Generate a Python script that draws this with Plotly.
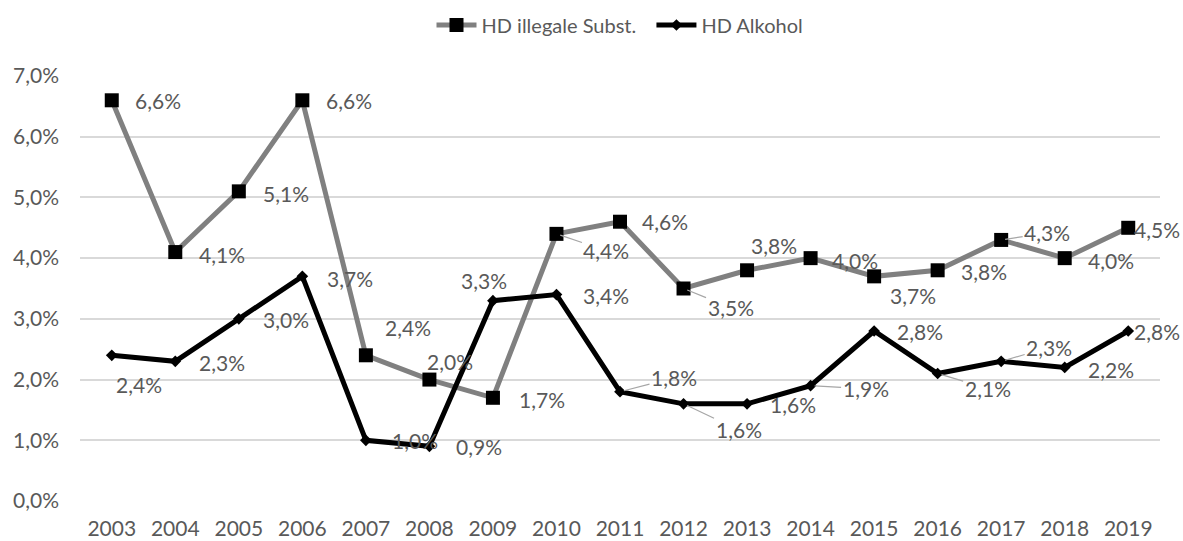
import plotly.graph_objects as go

years = [str(y) for y in range(2003, 2020)]
illegal = [0.066, 0.041, 0.051, 0.066, 0.024, 0.020, 0.017, 0.044, 0.046, 0.035,
           0.038, 0.040, 0.037, 0.038, 0.043, 0.040, 0.045]
alcohol = [0.024, 0.023, 0.030, 0.037, 0.010, 0.009, 0.033, 0.034, 0.018, 0.016,
           0.016, 0.019, 0.028, 0.021, 0.023, 0.022, 0.028]
y_ticks = [0.0, 0.01, 0.02, 0.03, 0.04, 0.05, 0.06, 0.07]

# label placement (pixel offsets of label centre from point; dy positive = down)
ill_dx = [46, 47, 47, 47, 42, 21, 49, 50, 45, 47, 27, 44, 39, 46, 46, 46, 29]
ill_dy = [0, 2, 2, 0, -28, -18, 2, 17, 0, 19, -25, 2, 19, 1, -7, 2, 2]
ill_leader = [False]*7 + [True, False, True, False, False, False, False, True, False, False]
alc_dx = [27, 47, 47, 48, 49, 50, -9, 50, 54, 55, 46, 55, 46, 50, 48, 46, 29]
alc_dy = [29, 1, 1, 2, 0, 0, -20, 1, -14, 26, 1, 3, 0, 15, -14, 2, 0]
alc_leader = [False]*8 + [True, True, False, True, False, True, True, False, False]

FONT = "Lato"
LBL = "#595959"
FS = 21

fig = go.Figure()
fig.add_trace(go.Scatter(
    x=years, y=illegal, name="HD illegale Subst.  ", mode="lines+markers",
    line=dict(color="#808080", width=5),
    marker=dict(symbol="square", size=14, color="black")))
fig.add_trace(go.Scatter(
    x=years, y=alcohol, name="HD Alkohol", mode="lines+markers",
    line=dict(color="black", width=5),
    marker=dict(symbol="diamond", size=9, color="black")))


def fmt(v):
    return f"{v*100:.1f}%".replace(".", ",")


for vals, dxs, dys, leads in [(illegal, ill_dx, ill_dy, ill_leader),
                               (alcohol, alc_dx, alc_dy, alc_leader)]:
    for i, (v, dx, dy, ld) in enumerate(zip(vals, dxs, dys, leads)):
        if ld:
            fig.add_annotation(x=i, y=v, xref="x", yref="y", text=fmt(v), showarrow=True,
                               ax=dx, ay=dy, arrowhead=0, arrowwidth=1.2,
                               arrowcolor="#a6a6a6", standoff=4,
                               font=dict(family=FONT, size=FS, color=LBL))
        else:
            fig.add_annotation(x=i, y=v, xref="x", yref="y", text=fmt(v), showarrow=False,
                               xshift=dx, yshift=-dy, xanchor="center", yanchor="middle",
                               font=dict(family=FONT, size=FS, color=LBL))

fig.update_layout(
    width=1183, height=541,
    margin=dict(l=80, r=23, t=76, b=40, autoexpand=False),
    paper_bgcolor="white", plot_bgcolor="white",
    separators=",.",
    font=dict(family=FONT, size=FS, color=LBL),
    showlegend=True,
    legend=dict(orientation="h", x=0.5, xanchor="center", y=1.12, yanchor="middle",
                font=dict(family=FONT, size=20, color=LBL), itemwidth=40,
                bgcolor="rgba(0,0,0,0)"),
    xaxis=dict(type="category", range=[-0.5, 16.5], showgrid=False, zeroline=False,
               showline=False, ticks="", tickfont=dict(family=FONT, size=FS, color=LBL),
               ticklabelstandoff=13, automargin=False),
    yaxis=dict(range=[0, 0.07], tickvals=y_ticks, tickformat=".1%", showgrid=True,
               gridcolor="#d9d9d9", gridwidth=1.5, zeroline=False, showline=False,
               ticks="", tickfont=dict(family=FONT, size=FS, color=LBL),
               ticklabelstandoff=20, automargin=False),
)

fig.write_html("out.html")
